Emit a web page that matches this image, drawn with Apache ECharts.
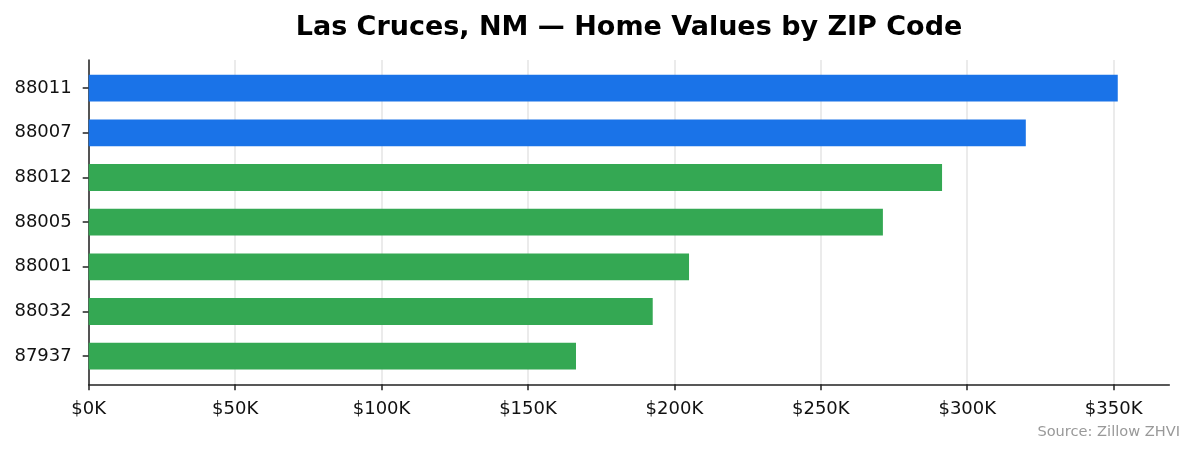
<!DOCTYPE html>
<html>
<head>
<meta charset="utf-8">
<script src="https://cdn.jsdelivr.net/npm/echarts@6/dist/echarts.min.js"></script>
<style>html,body{margin:0;padding:0;background:#fff;}#c{width:1194px;height:455px;}</style>
</head>
<body>
<div id="c"></div>
<script>
const zips = ["88011", "88007", "88012", "88005", "88001", "88032", "87937"];
const values = [351.4, 320.0, 291.4, 271.2, 205.0, 192.6, 166.4];
const barColors = ["#1a73e8", "#1a73e8", "#34a853", "#34a853", "#34a853", "#34a853", "#34a853"];
const xTicks = [0, 50, 100, 150, 200, 250, 300, 350];
const xMax = 369;

const FONT = "DejaVu Sans";
const L = 88.7, R = 1194 - 1169.3;
const unit = 44.67;
const topAxis = 60, botAxis = 384.3;
const pad = 0.13 * unit;

const chart = echarts.init(document.getElementById('c'));
chart.setOption({
  animation: false,
  backgroundColor: '#fff',
  title: {
    text: 'Las Cruces, NM — Home Values by ZIP Code',
    left: (L + 1169.3) / 2 - 5, textAlign: 'center', top: 9,
    textStyle: { fontFamily: FONT, fontWeight: 'bold', fontSize: 27, color: '#000' }
  },
  graphic: [{
    type: 'text', right: 14, top: 425,
    style: { text: 'Source: Zillow ZHVI', fontFamily: FONT, fontSize: 14.6, fill: '#999' }
  }],
  grid: [
    { left: L, right: R, top: topAxis + pad, bottom: 455 - botAxis + pad },
    { left: L, right: R, top: topAxis, bottom: 455 - botAxis }
  ],
  xAxis: [
    { gridIndex: 0, type: 'value', min: 0, max: xMax, show: false },
    {
      gridIndex: 1, type: 'value', min: 0, max: xMax, interval: 50,
      axisLine: { show: true, lineStyle: { color: '#222', width: 1.5 } },
      axisTick: { show: true, length: 6, customValues: xTicks, lineStyle: { color: '#222', width: 1.5 } },
      axisLabel: {
        fontFamily: FONT, fontSize: 18, color: '#111', margin: 16,
        customValues: xTicks,
        formatter: v => '$' + v + 'K'
      },
      splitLine: { show: true, lineStyle: { color: '#e5e5e5', width: 1.5 } }
    }
  ],
  yAxis: [
    {
      gridIndex: 0, type: 'category', data: zips, inverse: true,
      axisLine: { show: false },
      axisTick: { show: true, alignWithLabel: true, length: 6, lineStyle: { color: '#222', width: 1.5 } },
      axisLabel: { fontFamily: FONT, fontSize: 18, color: '#111', margin: 17, padding: [4, 0, 0, 0] },
      splitLine: { show: false }
    },
    {
      gridIndex: 1, type: 'value', min: 0, max: 1,
      axisLine: { show: true, lineStyle: { color: '#222', width: 1.5 } },
      axisTick: { show: false }, axisLabel: { show: false }, splitLine: { show: false }
    }
  ],
  series: [{
    type: 'bar', xAxisIndex: 0, yAxisIndex: 0,
    data: values.map((v, i) => ({ value: v, itemStyle: { color: barColors[i] } })),
    barWidth: 0.6 * unit,
    z: 3
  }]
});
</script>
</body>
</html>
